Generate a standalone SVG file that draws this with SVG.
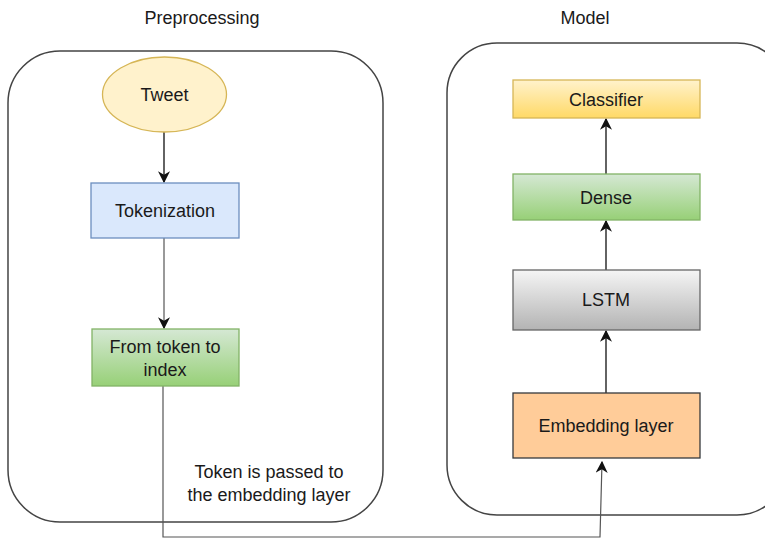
<svg xmlns="http://www.w3.org/2000/svg" width="765" height="542" viewBox="0 0 765 542">
<defs>
<linearGradient id="gGreen" x1="0" y1="0" x2="0" y2="1"><stop offset="0" stop-color="#d5e8d4"/><stop offset="1" stop-color="#97d077"/></linearGradient>
<linearGradient id="gYellow" x1="0" y1="0" x2="0" y2="1"><stop offset="0" stop-color="#fff2cc"/><stop offset="1" stop-color="#ffd966"/></linearGradient>
<linearGradient id="gGray" x1="0" y1="0" x2="0" y2="1"><stop offset="0" stop-color="#f5f5f5"/><stop offset="1" stop-color="#b3b3b3"/></linearGradient>
<marker id="arr" viewBox="0 0 10 10" refX="9" refY="5" markerWidth="12" markerHeight="12" markerUnits="userSpaceOnUse" orient="auto"><path d="M0,0 L10,5 L0,10 L3,5 Z" fill="#111"/></marker>
<style>
text{font-family:"Liberation Sans",Arial,sans-serif;font-size:18px;fill:#1a1a1a;text-anchor:middle}
.cont{fill:none;stroke:#444;stroke-width:1.5}
.conn{fill:none;stroke:#222;stroke-width:1.4}
.conn2{fill:none;stroke:#555;stroke-width:1.2}
</style>
</defs>
<g id="preprocessing">
<rect class="cont" x="8" y="51" width="375" height="471" rx="52" ry="52"/>
<text x="202" y="24">Preprocessing</text>
</g>
<g id="model">
<rect class="cont" x="447" y="43" width="340" height="472" rx="50" ry="50"/>
<text x="585" y="24">Model</text>
</g>
<g id="connectors">
<path class="conn" d="M164,132 L164,182" marker-end="url(#arr)"/>
<path class="conn2" d="M164,238 L164,328" marker-end="url(#arr)"/>
<path class="conn2" d="M163,386 L163,537 L600,537 L602,462" marker-end="url(#arr)"/>
<path class="conn" d="M606,393 L606,331" marker-end="url(#arr)"/>
<path class="conn" d="M606,270 L606,221" marker-end="url(#arr)"/>
<path class="conn" d="M606,174 L606,119" marker-end="url(#arr)"/>
</g>
<g id="tweet">
<ellipse cx="164.5" cy="94.5" rx="62" ry="37.5" fill="#fff2cc" stroke="#d6b656" stroke-width="1.3"/>
<text x="164.5" y="101">Tweet</text>
</g>
<g id="tokenization">
<rect x="91" y="183" width="148" height="55" fill="#dae8fc" stroke="#6c8ebf" stroke-width="1.3"/>
<text x="165" y="217">Tokenization</text>
</g>
<g id="token-to-index">
<rect x="92" y="329" width="147" height="57" fill="url(#gGreen)" stroke="#82b366" stroke-width="1.3"/>
<text x="165" y="353">From token to</text>
<text x="165" y="376">index</text>
</g>
<g id="edge-label">
<text x="269" y="478">Token is passed to</text>
<text x="269" y="501">the embedding layer</text>
</g>
<g id="classifier">
<rect x="513" y="80" width="187" height="38" fill="url(#gYellow)" stroke="#d6b656" stroke-width="1.3"/>
<text x="606" y="106">Classifier</text>
</g>
<g id="dense">
<rect x="513" y="174" width="187" height="46" fill="url(#gGreen)" stroke="#82b366" stroke-width="1.3"/>
<text x="606" y="204">Dense</text>
</g>
<g id="lstm">
<rect x="513" y="270" width="187" height="60" fill="url(#gGray)" stroke="#666" stroke-width="1.3"/>
<text x="606" y="306">LSTM</text>
</g>
<g id="embedding">
<rect x="513" y="393" width="187" height="65" fill="#ffcc99" stroke="#36393d" stroke-width="1.3"/>
<text x="606" y="432">Embedding layer</text>
</g>
</svg>
